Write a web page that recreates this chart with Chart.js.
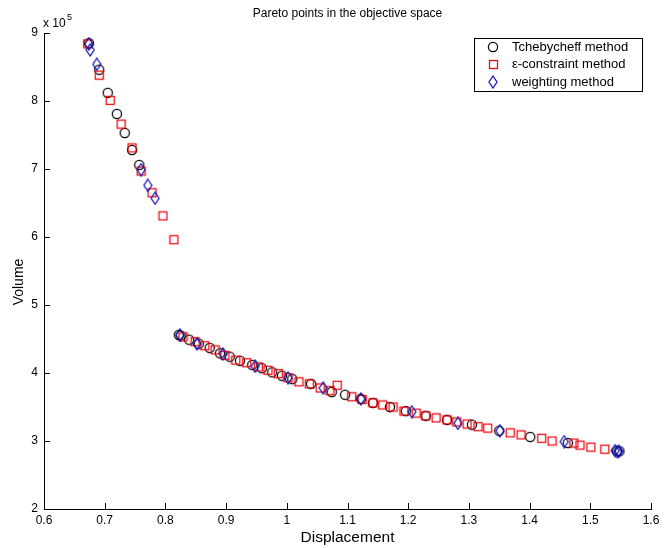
<!DOCTYPE html>
<html>
<head>
<meta charset="utf-8">
<script src="https://cdn.jsdelivr.net/npm/chart.js@4.4.1/dist/chart.umd.min.js"></script>
<style>
  html, body { margin: 0; padding: 0; background: #fff; }
  #wrap { width: 669px; height: 548px; }
</style>
</head>
<body>
<div id="wrap"><canvas id="paretoChart" width="669" height="548"></canvas></div>
<script>
// volume values are in units of 10^5
var tcheX = [0.674, 0.691, 0.705, 0.720, 0.733, 0.745, 0.757,
    0.822, 0.825, 0.839, 0.855, 0.873, 0.890, 0.906, 0.923, 0.943, 0.959, 0.976, 0.992, 1.009,
    1.040, 1.074, 1.096, 1.122, 1.142, 1.170, 1.196, 1.229, 1.264, 1.305, 1.350, 1.401, 1.463, 1.544, 1.548];
var tcheY = [8.85, 8.46, 8.12, 7.81, 7.53, 7.28, 7.06,
    4.56, 4.55, 4.49, 4.43, 4.37, 4.29, 4.24, 4.18, 4.12, 4.07, 4.01, 3.96, 3.91,
    3.84, 3.72, 3.68, 3.62, 3.56, 3.50, 3.44, 3.37, 3.31, 3.24, 3.15, 3.06, 2.97, 2.85, 2.85];

var epsX = [0.672, 0.691, 0.709, 0.727, 0.745, 0.760, 0.778, 0.796, 0.814,
    0.829, 0.849, 0.865, 0.882, 0.898, 0.916, 0.934, 0.953, 0.969, 0.986, 1.002, 1.020, 1.037, 1.055, 1.071,
    1.083, 1.107, 1.124, 1.142, 1.158, 1.175, 1.193, 1.213, 1.229, 1.246, 1.264, 1.280, 1.297, 1.315, 1.331,
    1.368, 1.386, 1.420, 1.437, 1.473, 1.483, 1.501, 1.524];
var epsY = [8.84, 8.38, 8.01, 7.66, 7.31, 6.97, 6.65, 6.31, 5.96,
    4.53, 4.46, 4.40, 4.34, 4.26, 4.19, 4.15, 4.09, 4.04, 3.99, 3.93, 3.87, 3.84, 3.78, 3.74,
    3.82, 3.65, 3.61, 3.56, 3.53, 3.50, 3.44, 3.41, 3.37, 3.34, 3.31, 3.28, 3.25, 3.21, 3.19,
    3.12, 3.09, 3.04, 3.00, 2.97, 2.94, 2.91, 2.88];

var weightX = [0.674, 0.676, 0.687, 0.760, 0.771, 0.783,
    0.824, 0.852, 0.895, 0.948, 1.002, 1.060, 1.122, 1.206, 1.282, 1.351, 1.457, 1.541, 1.545, 1.547];
var weightY = [8.84, 8.75, 8.54, 6.99, 6.76, 6.57,
    4.56, 4.43, 4.28, 4.10, 3.93, 3.78, 3.62, 3.43, 3.26, 3.15, 2.99, 2.86, 2.84, 2.85];

var xTickLabels = ['0.6', '0.7', '0.8', '0.9', '1', '1.1', '1.2', '1.3', '1.4', '1.5', '1.6'];
var yTickLabels = ['2', '3', '4', '5', '6', '7', '8', '9'];

var FONT = '"Liberation Sans", Arial, Helvetica, sans-serif';

function toPoints(xs, ys) {
    return xs.map(function (x, i) { return { x: x, y: ys[i] }; });
}

function makeMarker(w, h, draw) {
    var c = document.createElement('canvas');
    c.width = w;
    c.height = h;
    var g = c.getContext('2d');
    g.lineWidth = 1.25;
    draw(g);
    return c;
}

var circleMark = makeMarker(12, 12, function (g) {
    g.strokeStyle = '#000';
    g.beginPath();
    g.arc(6, 6, 4.6, 0, Math.PI * 2);
    g.stroke();
});
var squareMark = makeMarker(11, 11, function (g) {
    g.strokeStyle = 'rgb(240,0,10)';
    g.strokeRect(1.5, 1.5, 8, 8);
});
var diamondMark = makeMarker(10, 14, function (g) {
    g.strokeStyle = 'rgb(20,20,180)';
    g.beginPath();
    g.moveTo(5, 1);
    g.lineTo(9, 7);
    g.lineTo(5, 13);
    g.lineTo(1, 7);
    g.closePath();
    g.stroke();
});

// ticks drawn inward, plus title, y label, exponent and boxed legend
var extras = {
    id: 'extras',
    afterDraw: function (chart) {
        var ctx = chart.ctx;
        var a = chart.chartArea;
        var xs = chart.scales.x, ys = chart.scales.y;
        ctx.save();
        ctx.strokeStyle = '#000';
        ctx.lineWidth = 1;
        ctx.beginPath();
        xs.ticks.forEach(function (t) {
            var px = Math.round(xs.getPixelForValue(t.value)) + 0.5;
            ctx.moveTo(px, a.bottom);
            ctx.lineTo(px, a.bottom - 6);
        });
        ys.ticks.forEach(function (t) {
            var py = Math.round(ys.getPixelForValue(t.value)) + 0.5;
            ctx.moveTo(a.left, py);
            ctx.lineTo(a.left + 6, py);
        });
        ctx.stroke();

        ctx.fillStyle = '#000';
        ctx.textAlign = 'center';
        ctx.textBaseline = 'middle';
        ctx.font = '12px ' + FONT;
        ctx.fillText('Pareto points in the objective space', (a.left + a.right) / 2, 14);

        ctx.save();
        ctx.translate(19, 282);
        ctx.rotate(-Math.PI / 2);
        ctx.font = '14px ' + FONT;
        ctx.fillText('Volume', 0, 0);
        ctx.restore();

        ctx.textAlign = 'left';
        ctx.font = '12px ' + FONT;
        ctx.fillText('x 10', 43, 24);
        ctx.font = '9px ' + FONT;
        ctx.fillText('5', 67, 18);

        // legend
        var bx = 474.5, by = 38.5, bw = 168, bh = 53;
        ctx.fillStyle = '#fff';
        ctx.fillRect(bx, by, bw, bh);
        ctx.strokeRect(bx, by, bw, bh);
        var marks = [circleMark, squareMark, diamondMark];
        ctx.font = '13px ' + FONT;
        ctx.fillStyle = '#000';
        chart.data.datasets.forEach(function (ds, i) {
            var cy = 47 + i * 17.5;
            var m = marks[i];
            ctx.drawImage(m, Math.round(493 - m.width / 2), Math.round(cy - m.height / 2));
            ctx.fillText(ds.label, 512, cy);
        });
        ctx.restore();
    }
};

var ctx = document.getElementById('paretoChart').getContext('2d');

var myChart = new Chart(ctx, {
    type: 'scatter',
    data: {
        datasets: [{
            label: 'Tchebycheff method',
            data: toPoints(tcheX, tcheY),
            pointStyle: circleMark,
            order: 3
        }, {
            label: '\u03b5-constraint method',
            data: toPoints(epsX, epsY),
            pointStyle: squareMark,
            order: 2
        }, {
            label: 'weighting method',
            data: toPoints(weightX, weightY),
            pointStyle: diamondMark,
            order: 1
        }]
    },
    options: {
        responsive: false,
        animation: false,
        events: [],
        layout: { padding: { top: 33, right: 18, bottom: 0, left: 0 } },
        plugins: {
            legend: { display: false },
            tooltip: { enabled: false }
        },
        scales: {
            x: {
                type: 'linear',
                min: 0.6,
                max: 1.6,
                grid: { display: false, drawTicks: false },
                border: { display: true, color: '#000', width: 1 },
                ticks: {
                    stepSize: 0.1,
                    autoSkip: false,
                    maxRotation: 0,
                    padding: 4,
                    color: '#000',
                    font: { family: FONT, size: 12 },
                    callback: function (v, i) { return xTickLabels[i]; }
                },
                title: {
                    display: true,
                    text: 'Displacement',
                    color: '#000',
                    font: { family: FONT, size: 15.5 },
                    padding: { top: 0, bottom: 1 }
                },
                afterFit: function (s) { s.height = 39; }
            },
            y: {
                type: 'linear',
                min: 2,
                max: 9,
                grid: { display: false, drawTicks: false },
                border: { display: true, color: '#000', width: 1 },
                ticks: {
                    stepSize: 1,
                    padding: 6,
                    color: '#000',
                    font: { family: FONT, size: 12 },
                    callback: function (v, i) { return yTickLabels[i]; }
                },
                afterFit: function (s) { s.width = 44; }
            }
        }
    },
    plugins: [extras]
});
</script>
</body>
</html>
